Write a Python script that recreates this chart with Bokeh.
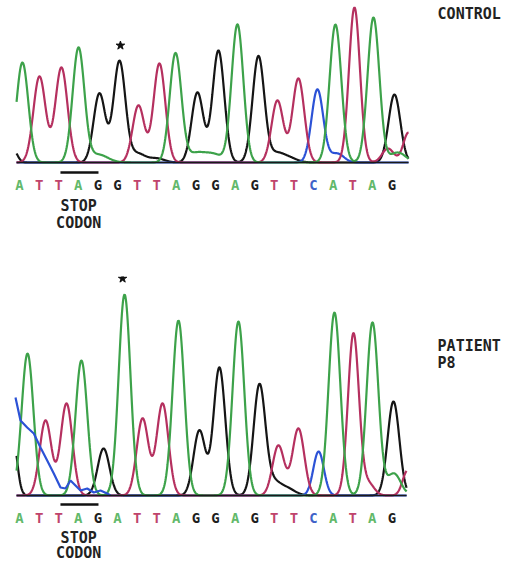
import numpy as np
from bokeh.plotting import figure
from bokeh.layouts import column
from bokeh.models import Range1d, ColumnDataSource
from bokeh.core.properties import value
from bokeh.embed import file_html
from bokeh.resources import INLINE

# ---------------- data ----------------
control_seq = list("ATTAGGTTAGGAGTTCATAG")
patient_seq = list("ATTAGATTAGGAGTTCATAG")

# peaks: position (base index), height (signal), width (bases)
top_A_pos = [0.15, 3.01, 4.0, 7.96, 9.0, 9.9, 11.12, 16.12, 18.06, 19.3]
top_A_h   = [100, 114, 8, 109, 9, 8, 138, 138, 145, 10]
top_A_w   = [0.30, 0.30, 0.5, 0.30, 0.45, 0.45, 0.30, 0.30, 0.30, 0.4]
top_T_pos = [1.02, 2.14, 6.07, 7.14, 13.16, 14.23, 17.09, 18.8, 19.85]
top_T_h   = [86, 95, 57, 99, 62, 84, 155, 14, 30]
top_T_w   = [0.31, 0.31, 0.30, 0.30, 0.30, 0.30, 0.28, 0.3, 0.27]
top_G_pos = [-0.3, 4.08, 5.10, 6.0, 7.0, 9.08, 10.15, 12.19, 13.1, 13.8, 19.13]
top_G_h   = [12, 69, 101, 9, 4, 70, 112, 106, 9, 4, 68]
top_G_w   = [0.2, 0.30, 0.30, 0.4, 0.4, 0.30, 0.30, 0.30, 0.4, 0.4, 0.30]
top_C_pos = [15.20, 16.2]
top_C_h   = [73, 9]
top_C_w   = [0.30, 0.35]

bot_A_pos = [0.41, 3.16, 5.36, 8.11, 11.17, 16.07, 18.01, 19.1]
bot_A_h   = [142, 135, 201, 175, 174, 183, 173, 22]
bot_A_w   = [0.30, 0.30, 0.30, 0.30, 0.30, 0.30, 0.30, 0.35]
bot_T_pos = [1.33, 2.40, 6.28, 7.30, 13.21, 14.23, 17.04, 17.8, 19.8]
bot_T_h   = [75, 92, 77, 92, 50, 67, 162, 12, 25]
bot_T_w   = [0.30, 0.30, 0.30, 0.30, 0.30, 0.30, 0.28, 0.3, 0.25]
bot_G_pos = [-0.35, 4.29, 9.18, 10.20, 12.24, 12.95, 13.7, 19.08]
bot_G_h   = [60, 47, 65, 128, 109, 13, 6, 94]
bot_G_w   = [0.22, 0.30, 0.30, 0.30, 0.30, 0.4, 0.4, 0.30]
bot_C_pos = [15.26]
bot_C_h   = [44]
bot_C_w   = [0.27]
# blue dye blob at start of patient trace
blob_x = [-0.204, 0.051, 0.393, 0.730, 1.071, 1.413, 1.750, 2.092, 2.347, 2.602,
          2.857, 3.112, 3.454, 3.791, 4.133, 4.474, 4.643]
blob_y = [98, 75, 68, 62, 48, 35, 22, 8, 7, 15, 10, 5, 7, 3, 5, 2, 0]

trace_col = {"A": "#3da24a", "T": "#b5305f", "G": "#151515", "C": "#2c52d6"}
letter_col = {"A": "#62b96a", "T": "#c0446c", "G": "#1e1e1e", "C": "#3f62c8"}

FONT = value("DejaVu Sans Mono")


def curve(u, pos, h, w):
    y = np.zeros_like(u)
    for p_, h_, w_ in zip(pos, h, w):
        y += h_ * np.exp(-0.5 * ((u - p_) / w_) ** 2)
    return y


def panel(height, yr, seq, chans, u_end, star_xy, label_lines, label_y, bar_y, stop_y, codon_y, blob=None):
    p = figure(width=517, height=height, x_range=Range1d(-0.969, 25.408), y_range=Range1d(*yr),
               output_backend="svg", toolbar_location=None, x_axis_location=None,
               y_axis_location=None, min_border=0, outline_line_color=None)
    p.grid.visible = False
    u = np.linspace(-0.15, u_end, 900)
    order = ["G", "C", "T", "A"]
    for b in order:
        pos, h, w = chans[b]
        p.line(u, curve(u, pos, h, w), line_color=trace_col[b], line_width=2.2)
    if blob is not None:
        p.line(blob[0], blob[1], line_color=trace_col["C"], line_width=2.2)
    # baseline
    p.line([-0.15, u_end], [0, 0], line_color="#1a1a1a", line_width=1.6)
    # base letters
    src = ColumnDataSource(dict(x=list(range(len(seq))), y=[-22] * len(seq), t=seq,
                                c=[letter_col[s] for s in seq]))
    p.text("x", "y", text="t", text_color="c", source=src, text_font=FONT, text_font_size="14px",
           text_font_style="bold", text_align="center", text_baseline="middle")
    # stop codon bar and label
    p.line([2.09, 4.03], [bar_y, bar_y], line_color="#111111", line_width=2.5)
    p.text([3.02, 3.02], [stop_y, codon_y], text=["STOP", "CODON"], text_font=FONT,
           text_font_size="15px", text_font_style="bold", text_color="#222222",
           text_align="center", text_baseline="middle")
    # star
    p.scatter([star_xy[0]], [star_xy[1]], marker="star", size=9, fill_color="#111111",
              line_color="#111111")
    # side label
    p.text([21.33] * len(label_lines), label_y, text=label_lines, text_font=FONT,
           text_font_size="15px", text_font_style="bold", text_color="#222222",
           text_align="left", text_baseline="middle")
    return p


top = panel(276, (-114, 162), control_seq,
            {"A": (top_A_pos, top_A_h, top_A_w), "T": (top_T_pos, top_T_h, top_T_w),
             "G": (top_G_pos, top_G_h, top_G_w), "C": (top_C_pos, top_C_h, top_C_w)},
            19.85, (5.15, 117), ["CONTROL"], [149], -10, -43, -60)

bot = panel(288, (-69, 219), patient_seq,
            {"A": (bot_A_pos, bot_A_h, bot_A_w), "T": (bot_T_pos, bot_T_h, bot_T_w),
             "G": (bot_G_pos, bot_G_h, bot_G_w), "C": (bot_C_pos, bot_C_h, bot_C_w)},
            19.75, (5.26, 217), ["PATIENT", "P8"], [150, 133], -9, -42, -57,
            blob=(blob_x, blob_y))

layout = column(top, bot, spacing=0)
open("out.html", "w").write(file_html(layout, INLINE))
